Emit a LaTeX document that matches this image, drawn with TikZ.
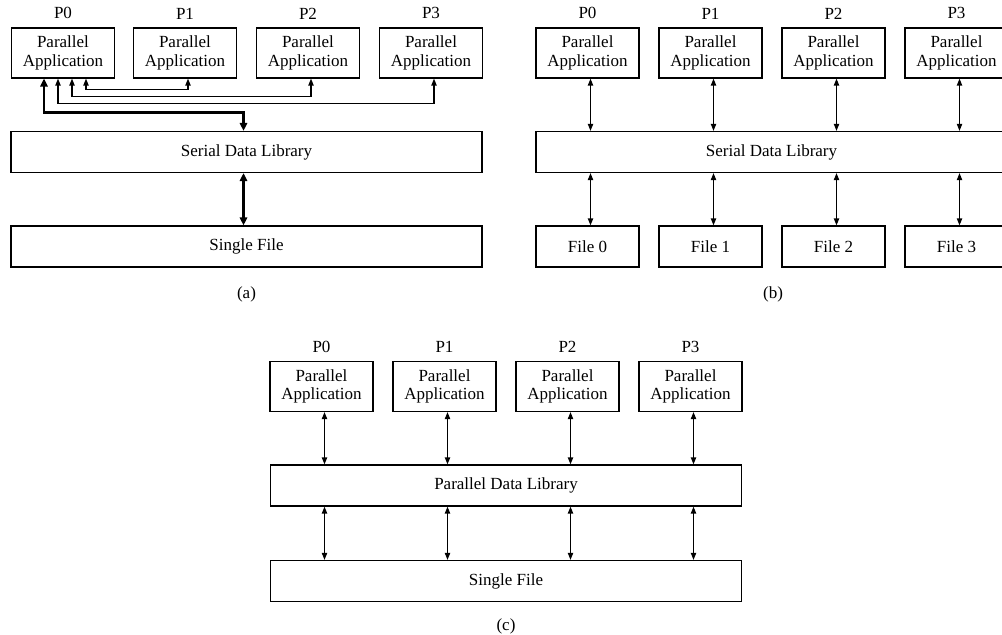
\documentclass[tikz,border=0pt]{standalone}
\usepackage{fontspec}
\setmainfont{Liberation Serif}
\usetikzlibrary{arrows.meta, positioning, calc}

\begin{document}
\begin{tikzpicture}[x=0.5pt, y=-0.5pt,
    every node/.style={font=\fontsize{8.5}{9.2}\selectfont},
    appbox/.style={draw, line width=0.55pt, align=center, inner sep=0pt, minimum width=51.5pt, minimum height=25pt},
    libbox/.style={draw, line width=0.55pt, inner sep=0pt, minimum width=235.5pt, minimum height=20.5pt},
    procname/.style={above=3pt of #1, inner sep=1pt},
    link/.style={line width=0.6pt, {Triangle[length=3.5pt,width=2.6pt]}-{Triangle[length=3.5pt,width=2.6pt]}},
    buslink/.style={line width=1.3pt, {Triangle[length=4pt,width=3.6pt]}-{Triangle[length=4pt,width=3.6pt]}}]
  \useasboundingbox (0,0) rectangle (1002,635);

  % (a) serial library, single file
  \node[appbox] (a0) at (63,53) {Parallel\\Application};
  \node[appbox] (a1) at (185,53) {Parallel\\Application};
  \node[appbox] (a2) at (308,53) {Parallel\\Application};
  \node[appbox] (a3) at (431,53) {Parallel\\Application};
  \node[procname=a0] (pa0) {P0};
  \node[procname=a1] (pa1) {P1};
  \node[procname=a2] (pa2) {P2};
  \node[procname=a3] (pa3) {P3};
  \node[libbox] (sdla) at (246.5,152) {Serial Data Library};
  \node[libbox] (sfa) at (246.5,246.5) {Single File};
  \node (capa) at (246.5,294) {(a)};
  \draw[buslink] ([xshift=-9.5pt]a0.south) -- ++(0,-17pt) -| ([xshift=-1.5pt]sdla.north);
  \draw[link] ([xshift=-2.5pt]a0.south) -- ++(0,-12.5pt) -| ([xshift=1.5pt]a3.south);
  \draw[link] ([xshift=4.5pt]a0.south) -- ++(0,-9pt) -| ([xshift=1.5pt]a2.south);
  \draw[link] ([xshift=11.5pt]a0.south) -- ++(0,-5.5pt) -| ([xshift=1.5pt]a1.south);
  \draw[buslink] ([xshift=-1.5pt]sdla.south) -- ([xshift=-1.5pt]sfa.north);

  % (b) serial library, one file per process
  \node[appbox] (b0) at (587.5,53) {Parallel\\Application};
  \node[appbox] (b1) at (710.5,53) {Parallel\\Application};
  \node[appbox] (b2) at (833.5,53) {Parallel\\Application};
  \node[appbox] (b3) at (956.5,53) {Parallel\\Application};
  \node[procname=b0] (pb0) {P0};
  \node[procname=b1] (pb1) {P1};
  \node[procname=b2] (pb2) {P2};
  \node[procname=b3] (pb3) {P3};
  \node[libbox] (sdlb) at (771.5,152) {Serial Data Library};
  \node[appbox, minimum height=20.5pt] (f0) at (587.5,246.5) {File 0};
  \node[appbox, minimum height=20.5pt] (f1) at (710.5,246.5) {File 1};
  \node[appbox, minimum height=20.5pt] (f2) at (833.5,246.5) {File 2};
  \node[appbox, minimum height=20.5pt] (f3) at (956.5,246.5) {File 3};
  \node (capb) at (773,294) {(b)};
  \draw[link] ([xshift=1.5pt]b0.south) -- ([xshift=1.5pt]b0.south |- sdlb.north);
  \draw[link] ([xshift=1.5pt]b1.south) -- ([xshift=1.5pt]b1.south |- sdlb.north);
  \draw[link] ([xshift=1.5pt]b2.south) -- ([xshift=1.5pt]b2.south |- sdlb.north);
  \draw[link] ([xshift=1.5pt]b3.south) -- ([xshift=1.5pt]b3.south |- sdlb.north);
  \draw[link] ([xshift=1.5pt]f0.north |- sdlb.south) -- ([xshift=1.5pt]f0.north);
  \draw[link] ([xshift=1.5pt]f1.north |- sdlb.south) -- ([xshift=1.5pt]f1.north);
  \draw[link] ([xshift=1.5pt]f2.north |- sdlb.south) -- ([xshift=1.5pt]f2.north);
  \draw[link] ([xshift=1.5pt]f3.north |- sdlb.south) -- ([xshift=1.5pt]f3.north);

  % (c) parallel library, single file
  \node[appbox] (c0) at (321.5,386.5) {Parallel\\Application};
  \node[appbox] (c1) at (444.5,386.5) {Parallel\\Application};
  \node[appbox] (c2) at (567.5,386.5) {Parallel\\Application};
  \node[appbox] (c3) at (690.5,386.5) {Parallel\\Application};
  \node[procname=c0] (pc0) {P0};
  \node[procname=c1] (pc1) {P1};
  \node[procname=c2] (pc2) {P2};
  \node[procname=c3] (pc3) {P3};
  \node[libbox] (pdl) at (506,485.5) {Parallel Data Library};
  \node[libbox] (sfc) at (506,581) {Single File};
  \node (capc) at (506,626) {(c)};
  \draw[link] ([xshift=1.5pt]c0.south) -- ([xshift=1.5pt]c0.south |- pdl.north);
  \draw[link] ([xshift=1.5pt]c1.south) -- ([xshift=1.5pt]c1.south |- pdl.north);
  \draw[link] ([xshift=1.5pt]c2.south) -- ([xshift=1.5pt]c2.south |- pdl.north);
  \draw[link] ([xshift=1.5pt]c3.south) -- ([xshift=1.5pt]c3.south |- pdl.north);
  \draw[link] ([xshift=1.5pt]c0.south |- pdl.south) -- ([xshift=1.5pt]c0.south |- sfc.north);
  \draw[link] ([xshift=1.5pt]c1.south |- pdl.south) -- ([xshift=1.5pt]c1.south |- sfc.north);
  \draw[link] ([xshift=1.5pt]c2.south |- pdl.south) -- ([xshift=1.5pt]c2.south |- sfc.north);
  \draw[link] ([xshift=1.5pt]c3.south |- pdl.south) -- ([xshift=1.5pt]c3.south |- sfc.north);
\end{tikzpicture}
\end{document}
